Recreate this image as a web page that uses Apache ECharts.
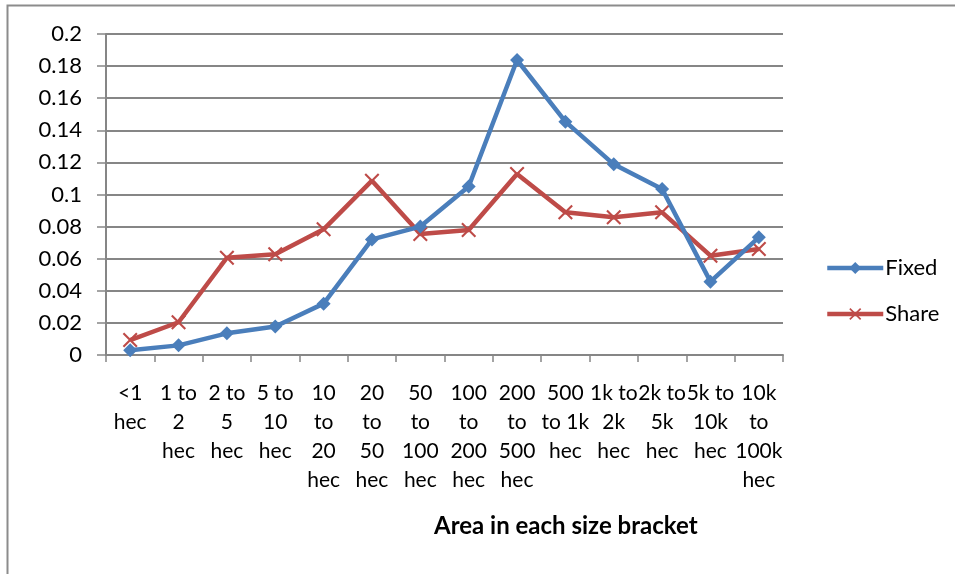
<!DOCTYPE html>
<html>
<head>
<meta charset="utf-8">
<script src="https://cdn.jsdelivr.net/npm/echarts@6/dist/echarts.min.js"></script>
<style>
  html, body { margin: 0; padding: 0; background: #fff; }
  #chart { width: 955px; height: 574px; }
</style>
</head>
<body>
<div id="chart"></div>
<script>
// Size brackets (hectares), one label per category
const categories = [
  "<1\nhec", "1 to\n2\nhec", "2 to\n5\nhec", "5 to\n10\nhec",
  "10\nto\n20\nhec", "20\nto\n50\nhec", "50\nto\n100\nhec", "100\nto\n200\nhec",
  "200\nto\n500\nhec", "500\nto 1k\nhec", "1k to\n2k\nhec", "2k to\n5k\nhec",
  "5k to\n10k\nhec", "10k\nto\n100k\nhec"
];

const fixedValues = [0.003, 0.006, 0.0135, 0.0177, 0.032, 0.072, 0.080, 0.105,
                     0.1838, 0.1454, 0.1188, 0.1034, 0.0457, 0.0733];
const shareValues = [0.0093, 0.0204, 0.0606, 0.0627, 0.0783, 0.1086, 0.0754, 0.0779,
                     0.1128, 0.0889, 0.0858, 0.0889, 0.0619, 0.066];

const yTicks = [0, 0.02, 0.04, 0.06, 0.08, 0.1, 0.12, 0.14, 0.16, 0.18, 0.2];

const xAxisTitle = 'Area in each size bracket';

const FONT = 'Lato, "Open Sans", sans-serif';
const BLUE = '#4A7EBB';
const RED = '#BE4B48';
const GRID_GRAY = '#868686';

// thin "X" cross marker
const crossPath = 'path://M0,1 L1,0 L5,4 L9,0 L10,1 L6,5 L10,9 L9,10 L5,6 L1,10 L0,9 L4,5 Z';

const chart = echarts.init(document.getElementById('chart'), null, { renderer: 'canvas' });

chart.setOption({
  animation: false,
  backgroundColor: '#fff',
  graphic: [
    {
      type: 'rect',
      shape: { x: 7.5, y: 5.5, width: 1200, height: 1200 },
      style: { fill: 'none', stroke: '#8c8c8c', lineWidth: 2 },
      silent: true
    },
    {
      // x-axis title, sits right of the plot centre
      type: 'text',
      left: 434,
      top: 514,
      style: {
        text: xAxisTitle,
        fontFamily: FONT,
        fontSize: 24,
        fontWeight: 'bold',
        fill: '#000'
      },
      silent: true
    }
  ],
  grid: { left: 106, right: 172, top: 34, bottom: 219, containLabel: false },
  legend: {
    orient: 'vertical',
    left: 820,
    top: 252,
    itemGap: 24,
    itemWidth: 56,
    itemHeight: 15,
    lineStyle: { width: 4.5 },
    textStyle: { fontFamily: FONT, fontSize: 22, color: '#000', padding: [0, 0, 0, -3] },
    data: ['Fixed', 'Share']
  },
  xAxis: {
    type: 'category',
    data: categories,
    boundaryGap: true,
    axisLine: { lineStyle: { color: GRID_GRAY, width: 2 } },
    axisTick: { show: true, length: 7, lineStyle: { color: GRID_GRAY, width: 1.5 } },
    axisLabel: {
      interval: 0,
      margin: 24,
      fontFamily: FONT,
      fontSize: 21,
      lineHeight: 29,
      color: '#000',
      align: 'center',
      verticalAlign: 'top'
    }
  },
  yAxis: {
    type: 'value',
    min: 0,
    max: 0.2,
    interval: 0.02,
    axisLine: { show: true, lineStyle: { color: GRID_GRAY, width: 2 } },
    axisTick: { show: true, length: 9, lineStyle: { color: GRID_GRAY, width: 1.5 } },
    splitLine: { show: true, lineStyle: { color: GRID_GRAY, width: 2 } },
    axisLabel: {
      margin: 24,
      fontFamily: FONT,
      fontSize: 22,
      color: '#000',
      formatter: function (v) {
        const t = yTicks.find(function (k) { return Math.abs(k - v) < 1e-9; });
        return t === undefined ? '' : String(t);
      }
    }
  },
  series: [
    {
      name: 'Fixed',
      type: 'line',
      data: fixedValues,
      color: BLUE,
      symbol: 'diamond',
      symbolSize: 14,
      lineStyle: { width: 4.5, color: BLUE },
      itemStyle: { color: BLUE },
      z: 3
    },
    {
      name: 'Share',
      type: 'line',
      data: shareValues,
      color: RED,
      symbol: crossPath,
      symbolSize: 15,
      lineStyle: { width: 4.5, color: RED },
      itemStyle: { color: RED },
      z: 2
    }
  ]
});
</script>
</body>
</html>
